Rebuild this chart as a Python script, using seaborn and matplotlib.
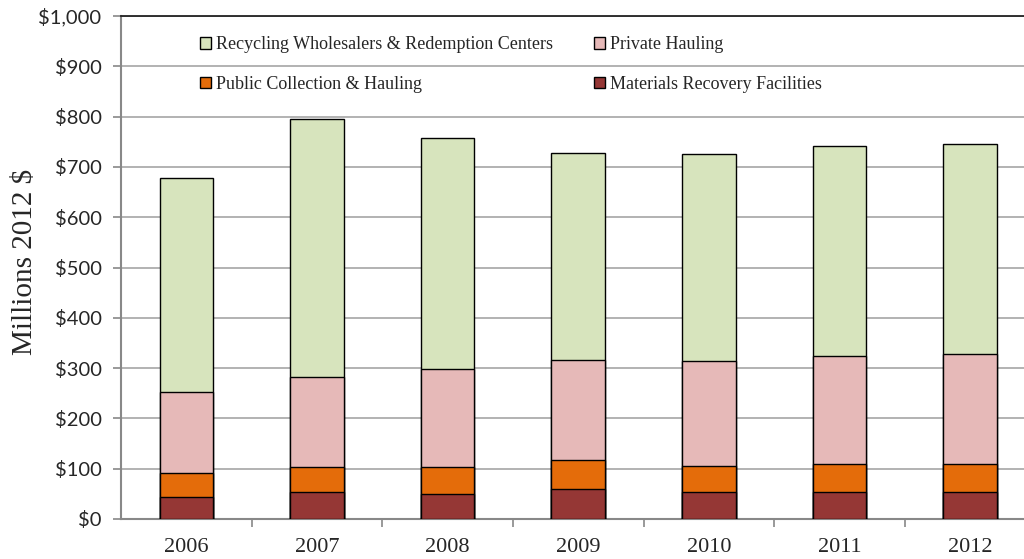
import matplotlib
matplotlib.use("Agg")
import matplotlib.pyplot as plt
import seaborn as sns
import numpy as np
from matplotlib.ticker import FuncFormatter, FixedLocator

years = ["2006", "2007", "2008", "2009", "2010", "2011", "2012"]
materials_recovery = [43, 53, 50, 60, 53, 53, 53]
public_collection = [49, 51, 53, 57, 53, 56, 56]
private_hauling = [160, 178, 195, 200, 209, 215, 220]
recycling_wholesalers = [426, 513, 460, 411, 410, 417, 417]

series_names = ["Materials Recovery Facilities", "Public Collection & Hauling",
                "Private Hauling", "Recycling Wholesalers & Redemption Centers"]
series_values = [materials_recovery, public_collection, private_hauling, recycling_wholesalers]
series_colors = ["#953735", "#E46C0A", "#E6B9B8", "#D7E4BD"]

sns.set_theme(style="white")
plt.rcParams['font.family'] = ['Liberation Serif', 'DejaVu Serif']

fig = plt.figure(figsize=(10.24, 5.59), dpi=100)
ax = fig.add_axes([121 / 1024, 40 / 559, (1024 - 121) / 1024, 503 / 559])

cum = np.cumsum(np.array(series_values), axis=0)
handles = {}
for i in range(len(series_values) - 1, -1, -1):
    sns.barplot(x=years, y=cum[i], color=series_colors[i], saturation=1,
                edgecolor="black", linewidth=1.0, width=0.41, ax=ax, zorder=3)
    handles[series_names[i]] = plt.Rectangle((0, 0), 1, 1, facecolor=series_colors[i],
                                             edgecolor="black", linewidth=1.0)

ax.set_ylim(0, 1000)
ax.set_xlim(-0.5, (1024 - 186) / 130.7)
ax.set_yticks(np.arange(0, 1001, 100))
ax.yaxis.set_major_formatter(FuncFormatter(lambda v, p: "${:,.0f}".format(v)))
ax.grid(axis="y", color="#A6A6A6", linewidth=1.2, zorder=0)
ax.set_axisbelow(True)

ax.spines["right"].set_visible(False)
ax.spines["top"].set_color("#222222")
ax.spines["top"].set_linewidth(1.3)
ax.spines["left"].set_color("#888888")
ax.spines["left"].set_linewidth(1.5)
ax.spines["bottom"].set_color("#888888")
ax.spines["bottom"].set_linewidth(1.5)

ax.tick_params(axis="y", which="major", direction="out", length=6, width=1.2,
               color="#888888", left=True, labelsize=14.5, pad=8)
for lab in ax.get_yticklabels():
    lab.set_fontfamily(["Lato", "DejaVu Sans"])
ax.tick_params(axis="x", which="major", length=0, labelsize=16, pad=14)
ax.xaxis.set_minor_locator(FixedLocator(np.arange(0.5, 6.5, 1.0)))
ax.tick_params(axis="x", which="minor", direction="out", length=6, width=1.2,
               color="#888888", bottom=True)

ax.set_xlabel("")
ax.set_ylabel("Millions 2012 $", fontsize=21)
ax.yaxis.set_label_coords(-0.092, 0.511)

order = ["Recycling Wholesalers & Redemption Centers", "Public Collection & Hauling",
         "Private Hauling", "Materials Recovery Facilities"]
leg = ax.legend([handles[n] for n in order], order, ncol=2, frameon=False,
                fontsize=13, handlelength=0.6, handleheight=0.6, handletextpad=0.3,
                columnspacing=2.25, labelspacing=1.25,
                loc="upper left", bbox_to_anchor=(0.0695, 0.992))

fig.savefig("out.png", dpi=100)
